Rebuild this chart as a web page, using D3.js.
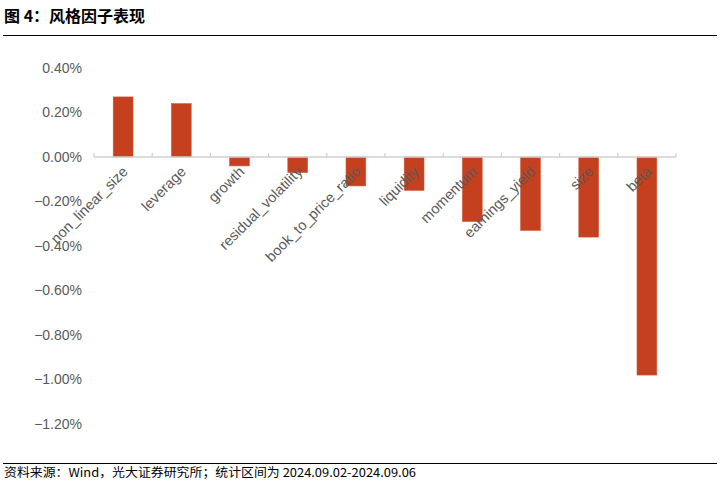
<!DOCTYPE html>
<html><head><meta charset="utf-8">
<script src="https://cdn.jsdelivr.net/npm/d3@7/dist/d3.min.js"></script>
<style>body{margin:0;background:#fff}svg{display:block}</style>
</head><body>
<svg id="c" width="720" height="481"></svg>
<script>
const categories = ["non_linear_size","leverage","growth","residual_volatility","book_to_price_ratio","liquidity","momentum","earnings_yield","size","beta"];
const values = [0.27,0.24,-0.04,-0.07,-0.13,-0.15,-0.29,-0.33,-0.36,-0.98];
const yTicks = [0.4,0.2,0,-0.2,-0.4,-0.6,-0.8,-1.0,-1.2];
const title = "图 4：风格因子表现";
const source = "资料来源：Wind，光大证券研究所；统计区间为 2024.09.02-2024.09.06";

const svg = d3.select("#c");
const x = d3.scaleBand().domain(categories).range([94,676]).paddingInner(0.66).paddingOuter(0.33);
const y = d3.scaleLinear().domain([-1.2,0.4]).range([424,68]);

svg.append("text").attr("x",4).attr("y",22).attr("font-family","'Noto Sans CJK SC',sans-serif")
  .attr("font-weight","bold").attr("font-size",16).attr("fill","#000").text(title);
svg.append("line").attr("x1",3).attr("x2",717).attr("y1",35.5).attr("y2",35.5).attr("stroke","#000").attr("stroke-width",1.2);
svg.append("line").attr("x1",3).attr("x2",717).attr("y1",463.5).attr("y2",463.5).attr("stroke","#000").attr("stroke-width",1.2);
svg.append("text").attr("x",4).attr("y",477).attr("font-family","'Noto Sans CJK SC',sans-serif")
  .attr("font-size",12).attr("fill","#000").attr("textLength",412).attr("lengthAdjust","spacingAndGlyphs").text(source);

// y tick labels
svg.append("g").selectAll("text").data(yTicks).join("text")
  .attr("x",82).attr("y",d=>y(d)).attr("dy","0.35em").attr("text-anchor","end")
  .attr("font-family","'Liberation Sans',Arial,sans-serif").attr("font-size",14).attr("fill","#595959")
  .text(d=>d3.format(".2%")(d/100));

// bars
svg.append("g").selectAll("rect").data(values).join("rect")
  .attr("x",(d,i)=>x(categories[i])).attr("width",x.bandwidth())
  .attr("y",d=>y(Math.max(0,d))).attr("height",d=>Math.abs(y(d)-y(0)))
  .attr("fill","#C5401F").attr("stroke","#D0573A").attr("stroke-width",0.6);

// x axis
const gx = svg.append("g").attr("transform",`translate(0,${y(0)})`);
gx.append("line").attr("x1",94).attr("x2",676).attr("stroke","#d0d0d0").attr("stroke-width",1.5);
const tickPos = d3.range(categories.length+1).map(i=>x.range()[0]+i*x.step()/(1)*(582/(x.step()*categories.length)));
gx.selectAll("line.t").data(tickPos).join("line").attr("class","t")
  .attr("x1",d=>d).attr("x2",d=>d).attr("y1",-4).attr("y2",0).attr("stroke","#d0d0d0").attr("stroke-width",1.2);

// x labels
svg.append("g").selectAll("text").data(categories).join("text")
  .attr("transform",d=>`translate(${x(d)+x.bandwidth()/2+2},${y(0)+12}) rotate(-45)`)
  .attr("text-anchor","end").attr("dy","0.35em")
  .attr("font-family","'Liberation Sans',Arial,sans-serif").attr("font-size",14.5).attr("fill","#595959")
  .text(d=>d);
</script>
</body></html>
